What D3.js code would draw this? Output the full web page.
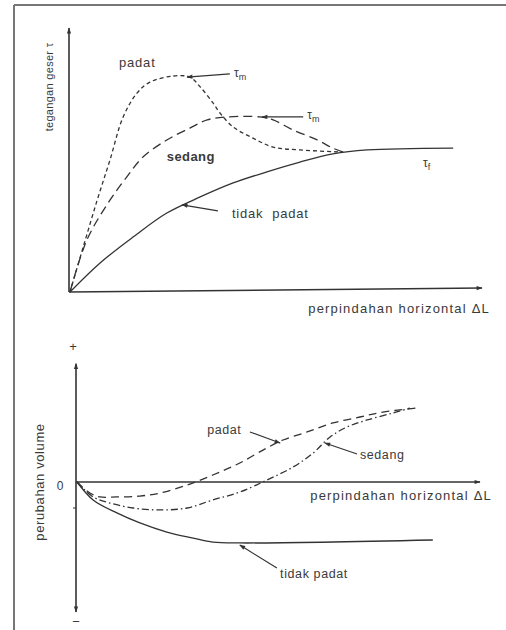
<!DOCTYPE html>
<html>
<head>
<meta charset="utf-8">
<script src="https://cdn.jsdelivr.net/npm/d3@7"></script>
<style>
  body { margin: 0; background: #fff; }
  text { font-family: "Liberation Sans", Arial, sans-serif; fill: #3a3a3a; }
</style>
</head>
<body>
<div id="chart_area"></div>
<script>
// top chart: shear stress vs horizontal displacement (x 0..100, y 0..100)
var shearPadat = [[0,0],[3.2,17],[6.6,34.8],[9.7,50],[12.9,66.3],[16.3,75.4],[19.4,79.5],[25,81.8],[29.1,81.4],
  [31.6,77.7],[34.7,71.6],[36.4,67.8],[39.6,62.5],[44.4,58.3],[49.3,54.9],[55.8,53.8],[66.3,53]];
var shearSedang = [[0,0],[4.1,19.7],[9.7,34.8],[13.8,43.6],[17.7,51.1],[23.5,57.6],[29.1,62.1],[33.3,65.2],
  [38.1,66.3],[46.1,66.3],[49.3,65.2],[54.1,61.4],[60,57.6],[63.8,54.5],[66.3,53]];
var shearTidak = [[0,0],[7.3,11],[15.3,20.8],[23.5,29.9],[31.6,36],[39.6,41.3],[47.8,45.5],[55.8,49.2],
  [63.8,52.3],[72.1,53.8],[93,54.5]];

// bottom chart: volume change vs horizontal displacement (x 0..100, y -100..100)
var volPadat = [[0,0],[3.2,-8.5],[5.7,-11.5],[9.9,-11.5],[15.6,-10.8],[20.6,-8.5],[27.3,-2.3],[33.7,5.4],
  [40.4,14.6],[47.1,26.2],[51.1,32.3],[57.1,38.5],[63.5,45.4],[70.2,50],[75.9,53.8],[84.4,56.9]];
var volSedang = [[0,0],[4,-11.5],[8.2,-16.2],[13.9,-20],[20.6,-21.5],[27.3,-20],[33.7,-13.8],[40.4,-7.7],
  [47.1,1.5],[53.6,11.5],[58.6,22.3],[62.8,34.6],[67,42.3],[72,47.7],[78.4,53.1],[82.6,56.9]];
var volTidak = [[0,0],[4,-13.8],[9.9,-23.8],[15.6,-31.5],[22.3,-38.5],[28.8,-43.1],[33.7,-46.2],[40.4,-46.9],[88.3,-44.6]];

// annotations: [label, label x, label y, arrow from x, from y, to x, to y]
var topNotes = [
  ["padat", 11.9, 85.2, null],
  ["sedang", 23.5, 49.6, null],
  ["tidak  padat", 39.3, 28, [35.9, 30.7, 27.2, 33]],
  ["τm", 39.8, 81.5, [38.8, 82.6, 28.4, 81.4]],
  ["τm", 57.6, 65.5, [56.6, 66.3, 46.6, 66.3]],
  ["τf", 85.7, 47.3, null]
];
var bottomNotes = [
  ["padat", 32.3, 36.9, [42.9, 38.5, 50.4, 30]],
  ["sedang", 70.2, 17.7, [69.5, 21.5, 61.5, 30]],
  ["tidak padat", 50.4, -73.8, [49.6, -66.2, 40.4, -48.5]]
];

var frame = d3.select("#chart_area").append("svg")
  .attr("width", 506).attr("height", 630);

// scan frame: only top and left edges show
frame.append("line").attr("x1", 14).attr("y1", 5).attr("x2", 506).attr("y2", 5)
  .attr("stroke", "#777").attr("stroke-width", 2);
frame.append("line").attr("x1", 14).attr("y1", 5).attr("x2", 14).attr("y2", 630)
  .attr("stroke", "#777").attr("stroke-width", 2);

var defs = frame.append("defs");
defs.append("marker").attr("id", "head")
  .attr("viewBox", "0 0 10 10").attr("refX", 9).attr("refY", 5)
  .attr("markerWidth", 9).attr("markerHeight", 6).attr("orient", "auto-start-reverse")
  .attr("markerUnits", "userSpaceOnUse")
  .append("path").attr("d", "M0,1.5 L10,5 L0,8.5 Z").attr("fill", "#333");

var ink = "#333";

// ---------- top chart ----------
var xTop = d3.scaleLinear().domain([0, 100]).range([70, 482]);
var yTop = d3.scaleLinear().domain([0, 100]).range([292, 28]);

var topG = frame.append("g");
topG.append("line")
  .attr("x1", xTop(0) - 1).attr("y1", yTop(0)).attr("x2", xTop(0) - 1).attr("y2", yTop(100))
  .attr("stroke", ink).attr("stroke-width", 1.6).attr("marker-end", "url(#head)");
topG.append("line")
  .attr("x1", xTop(0) - 1).attr("y1", yTop(0)).attr("x2", xTop(100)).attr("y2", yTop(1.5))
  .attr("stroke", ink).attr("stroke-width", 1.6).attr("marker-end", "url(#head)");

var lineTop = d3.line().x(function(d){ return xTop(d[0]); }).y(function(d){ return yTop(d[1]); })
  .curve(d3.curveCatmullRom);

topG.append("path").datum(shearPadat).attr("d", lineTop)
  .attr("fill", "none").attr("stroke", ink).attr("stroke-width", 1.3).attr("stroke-dasharray", "4,3");
topG.append("path").datum(shearSedang).attr("d", lineTop)
  .attr("fill", "none").attr("stroke", ink).attr("stroke-width", 1.3).attr("stroke-dasharray", "9,5");
topG.append("path").datum(shearTidak).attr("d", lineTop)
  .attr("fill", "none").attr("stroke", ink).attr("stroke-width", 1.3);

topNotes.forEach(function(n){
  var t = topG.append("text").attr("x", xTop(n[1])).attr("y", yTop(n[2]))
    .attr("font-size", 13).attr("letter-spacing", n[0] === "sedang" ? 0.4 : 0.8)
    .attr("font-weight", n[0] === "sedang" ? "bold" : "normal");
  if (n[0].charAt(0) === "τ") {
    t.text("τ").attr("font-size", 12).attr("letter-spacing", 0);
    t.append("tspan").attr("font-size", 9).attr("dy", 3).text(n[0].slice(1));
  } else {
    t.text(n[0]).style("white-space", "pre");
  }
  if (n[3]) {
    topG.append("line")
      .attr("x1", xTop(n[3][0])).attr("y1", yTop(n[3][1]))
      .attr("x2", xTop(n[3][2])).attr("y2", yTop(n[3][3]))
      .attr("stroke", ink).attr("stroke-width", 1.2).attr("marker-end", "url(#head)");
  }
});

topG.append("text").attr("transform", "translate(53,87) rotate(-90)")
  .attr("text-anchor", "middle").attr("font-size", 11).attr("letter-spacing", 0.3).text("tegangan geser τ");
topG.append("text").attr("x", 490).attr("y", 313)
  .attr("text-anchor", "end").attr("font-size", 13).attr("letter-spacing", 1.2)
  .text("perpindahan horizontal ΔL");

// ---------- bottom chart ----------
var xBot = d3.scaleLinear().domain([0, 100]).range([77, 480]);
var yBot = d3.scaleLinear().domain([-100, 100]).range([612, 352]);

var botG = frame.append("g");
botG.append("line")
  .attr("x1", xBot(0) - 1).attr("y1", yBot(0)).attr("x2", xBot(0) - 1).attr("y2", yBot(91))
  .attr("stroke", ink).attr("stroke-width", 1.6).attr("marker-end", "url(#head)");
botG.append("line")
  .attr("x1", xBot(0) - 1).attr("y1", yBot(0)).attr("x2", xBot(0) - 1).attr("y2", yBot(-100))
  .attr("stroke", ink).attr("stroke-width", 1.6).attr("marker-end", "url(#head)");
botG.append("line")
  .attr("x1", xBot(0) - 1).attr("y1", yBot(0)).attr("x2", xBot(100)).attr("y2", yBot(0))
  .attr("stroke", ink).attr("stroke-width", 1.6).attr("marker-end", "url(#head)");
botG.append("line")
  .attr("x1", xBot(0) - 4).attr("y1", yBot(-20)).attr("x2", xBot(0) - 1).attr("y2", yBot(-20))
  .attr("stroke", ink).attr("stroke-width", 1);

var lineBot = d3.line().x(function(d){ return xBot(d[0]); }).y(function(d){ return yBot(d[1]); })
  .curve(d3.curveCatmullRom);

botG.append("path").datum(volPadat).attr("d", lineBot)
  .attr("fill", "none").attr("stroke", ink).attr("stroke-width", 1.3).attr("stroke-dasharray", "8,5");
botG.append("path").datum(volSedang).attr("d", lineBot)
  .attr("fill", "none").attr("stroke", ink).attr("stroke-width", 1.3).attr("stroke-dasharray", "7,3,1.5,3");
botG.append("path").datum(volTidak).attr("d", lineBot)
  .attr("fill", "none").attr("stroke", ink).attr("stroke-width", 1.3);

bottomNotes.forEach(function(n){
  botG.append("text").attr("x", xBot(n[1])).attr("y", yBot(n[2]))
    .attr("font-size", 12.5).attr("letter-spacing", 0.6).text(n[0]);
  botG.append("line")
    .attr("x1", xBot(n[3][0])).attr("y1", yBot(n[3][1]))
    .attr("x2", xBot(n[3][2])).attr("y2", yBot(n[3][3]))
    .attr("stroke", ink).attr("stroke-width", 1.2).attr("marker-end", "url(#head)");
});

botG.append("text").attr("x", 73).attr("y", 351).attr("text-anchor", "middle").attr("font-size", 13).text("+");
botG.append("text").attr("x", 76).attr("y", 626).attr("text-anchor", "middle").attr("font-size", 13).text("−");
botG.append("text").attr("x", 60).attr("y", 490).attr("text-anchor", "middle").attr("font-size", 12).text("0");

botG.append("text").attr("transform", "translate(44,482) rotate(-90)")
  .attr("text-anchor", "middle").attr("font-size", 13).attr("letter-spacing", 0.6).text("perubahan volume");
botG.append("text").attr("x", 492).attr("y", 500)
  .attr("text-anchor", "end").attr("font-size", 13).attr("letter-spacing", 1.2)
  .text("perpindahan horizontal ΔL");
</script>
</body>
</html>
